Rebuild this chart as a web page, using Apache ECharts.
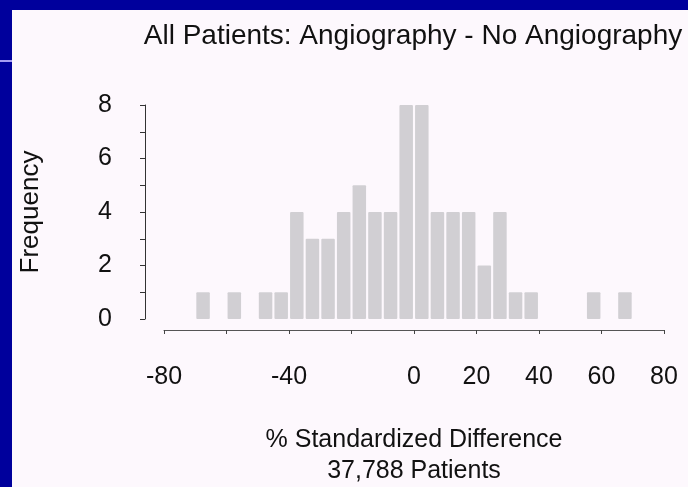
<!DOCTYPE html>
<html><head><meta charset="utf-8">
<script src="https://cdn.jsdelivr.net/npm/echarts@6/dist/echarts.min.js"></script>
<style>html,body{margin:0;padding:0;background:#00009c;overflow:hidden}#c{width:688px;height:487px}</style>
</head><body><div id="c"></div>
<script>
// Histogram bins (% standardized difference, bin width 5) and their counts
const binCenters = [-67.5, -62.5, -57.5, -52.5, -47.5, -42.5, -37.5, -32.5, -27.5, -22.5,
  -17.5, -12.5, -7.5, -2.5, 2.5, 7.5, 12.5, 17.5, 22.5, 27.5,
  32.5, 37.5, 42.5, 47.5, 52.5, 57.5, 62.5, 67.5];
const frequency = [1, 0, 1, 0, 1, 1, 4, 3, 3, 4,
  5, 4, 4, 8, 8, 4, 4, 4, 2, 4,
  1, 1, 0, 0, 0, 1, 0, 1];
const xTickLabels = [-80, -40, 0, 20, 40, 60, 80];
const yTickLabels = [0, 2, 4, 6, 8];
const titleText = 'All Patients: Angiography - No Angiography';
const xName = '% Standardized Difference\n37,788 Patients';
const yName = 'Frequency';

const FONT = 'Liberation Sans, Arial, Helvetica, sans-serif';
const chart = echarts.init(document.getElementById('c'), null, {renderer: 'canvas'});
chart.setOption({
  animation: false,
  backgroundColor: '#00009c',
  graphic: {
    elements: [
      {type: 'rect', z: -10, silent: true, shape: {x: 12, y: 10, width: 676, height: 477}, style: {fill: '#fdf8fd'}},
      {type: 'line', z: -9, silent: true, shape: {x1: 0, y1: 61, x2: 12, y2: 61}, style: {stroke: '#a49cf2', lineWidth: 2}}
    ]
  },
  title: {
    text: titleText,
    left: 413, top: 22, textAlign: 'center', padding: 0,
    textStyle: {fontFamily: FONT, fontSize: 28, fontWeight: 'normal', color: '#111'}
  },
  grid: {left: 164, right: 24, top: 105, bottom: 166.5, containLabel: false},
  xAxis: {
    type: 'value', min: -80, max: 80, interval: 20, offset: 11,
    axisLine: {show: true, onZero: false, lineStyle: {color: '#555', width: 1}},
    axisTick: {show: true, length: 4, lineStyle: {color: '#444'}},
    splitLine: {show: false},
    axisLabel: {
      margin: 35, fontFamily: FONT, fontSize: 25, color: '#111',
      formatter: v => xTickLabels.includes(v) ? String(v) : ''
    },
    name: xName, nameLocation: 'middle', nameGap: 95,
    nameTextStyle: {fontFamily: FONT, fontSize: 25, color: '#111', lineHeight: 30.5}
  },
  yAxis: {
    type: 'value', min: 0, max: 8, interval: 1, offset: 19,
    axisLine: {show: true, onZero: false, lineStyle: {color: '#333', width: 1}},
    axisTick: {show: true, length: 5, lineStyle: {color: '#333'}},
    splitLine: {show: false},
    axisLabel: {
      margin: 33, fontFamily: FONT, fontSize: 25, color: '#111',
      formatter: v => yTickLabels.includes(v) ? String(v) : ''
    },
    name: yName, nameLocation: 'middle', nameGap: 101,
    nameTextStyle: {fontFamily: FONT, fontSize: 26, color: '#111'}
  },
  series: [{
    type: 'bar',
    data: binCenters.map((c, i) => [c, frequency[i]]),
    barWidth: 13.5,
    silent: true,
    itemStyle: {color: '#d1cfd3', borderRadius: 1}
  }]
});
</script></body></html>
